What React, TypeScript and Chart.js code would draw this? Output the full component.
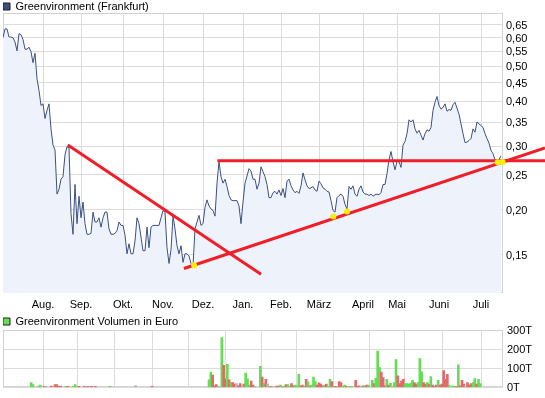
import React, { useEffect, useRef } from 'react';
import { Chart, registerables } from 'chart.js';

Chart.register(...registerables);

const FONT = "'Liberation Sans', Arial, sans-serif";

const monthTickDays = [20, 39, 60, 80, 100, 120, 139, 158, 180, 197, 218, 239];
const monthLabels = ['Aug.', 'Sep.', 'Okt.', 'Nov.', 'Dez.', 'Jan.', 'Feb.', 'März', 'April', 'Mai', 'Juni', 'Juli'];
const priceTicks = [0.15, 0.2, 0.25, 0.3, 0.35, 0.4, 0.45, 0.5, 0.55, 0.6, 0.65];
const volumeTicks = [0, 100, 200, 300];

const priceValues = [
  0.599, 0.634, 0.634, 0.602, 0.602, 0.599, 0.583, 0.551, 0.615, 0.611,
  0.593, 0.557, 0.557, 0.564, 0.548, 0.511, 0.543, 0.461, 0.428, 0.389,
  0.393, 0.358, 0.377, 0.393, 0.335, 0.302, 0.293, 0.221, 0.228, 0.243,
  0.247, 0.284, 0.299, 0.297, 0.195, 0.171, 0.235, 0.183, 0.218, 0.190,
  0.210, 0.183, 0.171, 0.171, 0.172, 0.197, 0.185, 0.185, 0.190, 0.179,
  0.190, 0.197, 0.197, 0.177, 0.171, 0.171, 0.172, 0.175, 0.185, 0.181,
  0.181, 0.170, 0.151, 0.161, 0.151, 0.151, 0.164, 0.190, 0.183, 0.168,
  0.154, 0.154, 0.179, 0.157, 0.179, 0.181, 0.181, 0.181, 0.181, 0.190,
  0.199, 0.197, 0.157, 0.142, 0.155, 0.192, 0.177, 0.159, 0.151, 0.159,
  0.143, 0.151, 0.151, 0.149, 0.142, 0.140, 0.177, 0.185, 0.193, 0.181,
  0.183, 0.203, 0.213, 0.205, 0.201, 0.199, 0.192, 0.237, 0.272, 0.247,
  0.237, 0.243, 0.232, 0.219, 0.213, 0.212, 0.212, 0.212, 0.205, 0.183,
  0.210, 0.237, 0.248, 0.260, 0.256, 0.243, 0.243, 0.228, 0.237, 0.263,
  0.255, 0.247, 0.235, 0.216, 0.216, 0.223, 0.225, 0.221, 0.227, 0.219,
  0.229, 0.216, 0.240, 0.243, 0.233, 0.227, 0.223, 0.225, 0.222, 0.233,
  0.253, 0.242, 0.233, 0.229, 0.230, 0.232, 0.227, 0.225, 0.240, 0.236,
  0.230, 0.228, 0.225, 0.224, 0.212, 0.199, 0.197, 0.216, 0.219, 0.221,
  0.218, 0.207, 0.201, 0.232, 0.228, 0.233, 0.221, 0.218, 0.228, 0.233,
  0.224, 0.221, 0.221, 0.219, 0.221, 0.218, 0.220, 0.221, 0.220, 0.223,
  0.235, 0.235, 0.252, 0.275, 0.290, 0.272, 0.258, 0.272, 0.272, 0.262,
  0.302, 0.309, 0.325, 0.355, 0.350, 0.355, 0.335, 0.326, 0.332, 0.322,
  0.312, 0.325, 0.333, 0.330, 0.338, 0.377, 0.397, 0.412, 0.389, 0.380,
  0.384, 0.393, 0.375, 0.379, 0.377, 0.391, 0.397, 0.382, 0.368, 0.346,
  0.325, 0.307, 0.308, 0.311, 0.315, 0.335, 0.328, 0.350, 0.346, 0.342,
  0.338, 0.325, 0.315, 0.306, 0.292, 0.286, 0.275, 0.271, 0.276, 0.282,
];

const volumeDays = [
  4, 5, 8, 9, 11, 12, 15, 17, 18, 19, 20, 23, 24, 27, 28, 30, 33, 35, 37, 39, 47, 61, 70,
  101, 102, 103, 104, 105, 106, 108, 109, 110, 111, 112, 113, 114, 115, 116, 117, 118, 120, 121, 122, 123, 124, 125,
  126, 129, 130, 131, 132, 133, 134, 135,
  137, 138, 139, 140, 141, 142, 143, 144, 145, 146, 147, 148, 149, 150, 151, 152, 153, 154, 155, 156, 157, 158, 159, 160, 161, 162, 163, 164, 165, 166, 167, 168, 169, 170,
  172, 173, 174, 175, 176, 177, 178, 179,
  181, 182, 183, 184, 185, 186, 187, 188,
  190, 191, 192, 193, 194, 195, 196, 197, 198, 199, 200, 201, 202, 203, 204, 205, 206, 207, 208, 209,
  210, 211, 212, 213, 214, 215, 216, 217, 218, 219, 220, 221, 222, 223, 224, 225, 226, 227, 228, 229,
  230, 231, 232, 233, 234, 235, 236, 237, 238, 239, 240, 241, 242, 243, 244, 245, 246, 247, 248, 249,
];
const volumeValues = [
  25, 15, 7, 12, 5, 5, 7, 15, 15, 5, 7, 5, 5, 5, 15, 5, 5, 5, 5, 5, 5, 10, 5,
  40, 80, 65, 8, 15, 5, 260, 115, 45, 120, 40, 25, 25, 17, 20, 8, 20, 17, 75, 45, 12, 33, 12,
  5, 110, 54, 20, 42, 17, 5, 4,
  4, 7, 7, 12, 4, 7, 15, 15, 4, 20, 8, 12, 8, 68, 8, 12, 5, 42, 29, 8, 12, 54, 30, 12, 24, 17, 8, 12, 17, 5, 42, 30, 5, 5,
  30, 25, 5, 12, 5, 5, 5, 4,
  37, 5, 8, 5, 8, 8, 12, 12,
  37, 20, 47, 190, 105, 80, 51, 8, 42, 12, 22, 5, 25, 145, 60, 20, 34, 42, 20, 20,
  17, 22, 37, 25, 17, 25, 150, 82, 25, 17, 25, 17, 56, 12, 5, 12, 37, 12, 17, 88,
  42, 68, 12, 4, 8, 5, 5, 118, 8, 37, 17, 5, 25, 12, 20, 25, 46, 17, 42, 20,
];
const volumeTrend = [
  'u', 'u', 'u', 'u', 'd', 'n', 'd', 'd', 'd', 'd', 'd', 'u', 'd', 'u', 'u', 'd', 'd', 'd', 'd', 'd', 'u', 'n', 'd',
  'u', 'u', 'd', 'd', 'd', 'u', 'u', 'd', 'd', 'u', 'd', 'u', 'd', 'd', 'n', 'd', 'd', 'd', 'u', 'u', 'u', 'd', 'd',
  'u', 'u', 'd', 'u', 'd', 'n', 'u', 'd',
  'n', 'd', 'd', 'u', 'd', 'u', 'd', 'u', 'u', 'd', 'd', 'u', 'u', 'u', 'd', 'd', 'u', 'd', 'u', 'd', 'u', 'u', 'u', 'd', 'd', 'd', 'd', 'u', 'd', 'u', 'u', 'd', 'u', 'd',
  'd', 'd', 'u', 'u', 'd', 'n', 'u', 'u',
  'd', 'd', 'd', 'n', 'd', 'u', 'd', 'u',
  'u', 'd', 'u', 'u', 'u', 'd', 'd', 'd', 'u', 'd', 'u', 'n', 'u', 'u', 'd', 'd', 'd', 'd', 'u', 'u',
  'u', 'u', 'u', 'd', 'd', 'u', 'u', 'u', 'd', 'd', 'u', 'd', 'u', 'd', 'd', 'd', 'u', 'd', 'd', 'd',
  'd', 'd', 'u', 'n', 'u', 'u', 'd', 'u', 'd', 'd', 'd', 'n', 'd', 'd', 'd', 'u', 'u', 'd', 'u', 'u',
];

// trend lines drawn on the chart: [day, price] end points
const fallingTrend = [[32.4, 0.3025], [129, 0.1326]];
const risingTrend = [[90.5, 0.1375], [271, 0.2968]];
const resistanceLine = [[107.2, 0.2734], [271, 0.2734]];
const touchDays = [95.5, 165.2, 172, 247.3, 249.8];
const touchPrices = [0.1404, 0.1917, 0.1978, 0.2706, 0.2712];

const GRID = '#dcdcdc';
const FRAME = '#d2d2d2';
const GREEN = '#66dd55';
const RED = '#e36a6a';
const GRAY = '#b8b8b8';

const framePlugin = {
  id: 'frame',
  beforeDatasetsDraw(chart: any) {
    const { ctx, chartArea: a } = chart;
    ctx.save();
    ctx.strokeStyle = FRAME;
    ctx.lineWidth = 1;
    ctx.strokeRect(Math.round(a.left) + 0.5, Math.round(a.top) + 0.5, Math.round(a.right - a.left) - 1, Math.round(a.bottom - a.top) - 1);
    ctx.restore();
  },
};

const trendPlugin = {
  id: 'trend',
  afterDatasetsDraw(chart: any) {
    const { ctx } = chart;
    const xs = chart.scales.x;
    const ys = chart.scales.y;
    ctx.save();
    ctx.strokeStyle = '#f01e28';
    ctx.lineWidth = 3;
    for (const seg of [fallingTrend, risingTrend, resistanceLine]) {
      ctx.beginPath();
      ctx.moveTo(xs.getPixelForValue(seg[0][0]), ys.getPixelForValue(seg[0][1]));
      ctx.lineTo(xs.getPixelForValue(seg[1][0]), ys.getPixelForValue(seg[1][1]));
      ctx.stroke();
    }
    ctx.fillStyle = '#ffee00';
    touchDays.forEach((d, k) => {
      ctx.beginPath();
      ctx.arc(xs.getPixelForValue(d), ys.getPixelForValue(touchPrices[k]), 3, 0, Math.PI * 2);
      ctx.fill();
    });
    ctx.restore();
  },
};

export default function App() {
  const mainRef = useRef<HTMLCanvasElement>(null);
  const volRef = useRef<HTMLCanvasElement>(null);

  useEffect(() => {
    Chart.defaults.font.family = FONT;
    Chart.defaults.font.size = 11;
    Chart.defaults.color = '#000';

    const main = new Chart(mainRef.current as HTMLCanvasElement, {
      type: 'line',
      data: {
        datasets: [
          {
            label: 'Greenvironment (Frankfurt)',
            data: priceValues.map((v, i) => ({ x: i, y: v })),
            borderColor: '#3c5080',
            borderWidth: 1,
            backgroundColor: '#eef2fa',
            fill: 'start',
            pointRadius: 0,
            tension: 0,
          },
        ],
      },
      options: {
        responsive: false,
        animation: false,
        events: [],
        layout: { padding: { top: 1, left: 3, right: 0, bottom: 0 } },
        plugins: {
          tooltip: { enabled: false },
          legend: {
            display: true,
            position: 'top',
            align: 'start',
            maxHeight: 12,
            labels: {
              boxWidth: 7,
              boxHeight: 7,
              padding: 0,
              color: '#000',
              font: { family: FONT, size: 11 },
              generateLabels: () => [
                { text: 'Greenvironment (Frankfurt)', fillStyle: '#3c5080', strokeStyle: '#1e1e1e', lineWidth: 1, hidden: false, datasetIndex: 0 },
              ],
            },
          },
        },
        scales: {
          x: {
            type: 'linear',
            min: 0,
            max: 250,
            afterBuildTicks: (s: any) => {
              s.ticks = monthTickDays.map((v) => ({ value: v }));
            },
            afterFit: (s: any) => {
              s.height = 19;
            },
            ticks: {
              autoSkip: false,
              maxRotation: 0,
              padding: 5,
              color: '#000',
              font: { family: FONT, size: 11 },
              callback: (v: any) => {
                const k = monthTickDays.indexOf(Number(v));
                return k >= 0 ? monthLabels[k] : '';
              },
            },
            grid: { color: GRID, drawTicks: false },
            border: { display: false },
          },
          y: {
            type: 'logarithmic',
            position: 'right',
            min: 0.1176,
            max: 0.7016,
            afterBuildTicks: (s: any) => {
              s.ticks = priceTicks.map((v) => ({ value: v }));
            },
            afterFit: (s: any) => {
              s.width = 42;
            },
            ticks: {
              autoSkip: false,
              padding: 3,
              labelOffset: 1,
              color: '#000',
              font: { family: FONT, size: 11 },
              callback: (v: any) => Number(v).toFixed(2).replace('.', ','),
            },
            grid: { color: GRID, drawTicks: false },
            border: { display: false },
          },
        },
      },
      plugins: [framePlugin, trendPlugin],
    } as any);

    const vol = new Chart(volRef.current as HTMLCanvasElement, {
      type: 'bar',
      data: {
        datasets: [
          {
            label: 'Greenvironment Volumen in Euro',
            data: volumeDays.map((d, k) => ({ x: d, y: volumeValues[k] })),
            backgroundColor: volumeTrend.map((t) => (t === 'u' ? GREEN : t === 'd' ? RED : GRAY)),
            borderWidth: 0,
            barThickness: 2,
          },
        ],
      },
      options: {
        responsive: false,
        animation: false,
        events: [],
        layout: { padding: { top: 1, left: 3, right: 0, bottom: 0 } },
        plugins: {
          tooltip: { enabled: false },
          legend: {
            display: true,
            position: 'top',
            align: 'start',
            maxHeight: 14,
            labels: {
              boxWidth: 7,
              boxHeight: 7,
              padding: 0,
              color: '#000',
              font: { family: FONT, size: 11 },
              generateLabels: () => [
                { text: 'Greenvironment Volumen in Euro', fillStyle: GREEN, strokeStyle: '#1e1e1e', lineWidth: 1, hidden: false, datasetIndex: 0 },
              ],
            },
          },
        },
        scales: {
          x: {
            type: 'linear',
            min: 0,
            max: 250,
            afterBuildTicks: (s: any) => {
              s.ticks = monthTickDays.map((v) => ({ value: v }));
            },
            afterFit: (s: any) => {
              s.height = 9;
            },
            ticks: { display: false },
            grid: { color: GRID, drawTicks: false },
            border: { display: false },
          },
          y: {
            type: 'linear',
            position: 'right',
            min: 0,
            max: 300,
            afterBuildTicks: (s: any) => {
              s.ticks = volumeTicks.map((v) => ({ value: v }));
            },
            afterFit: (s: any) => {
              s.width = 42;
            },
            ticks: {
              autoSkip: false,
              padding: 4,
              labelOffset: 1,
              color: '#000',
              font: { family: FONT, size: 11 },
              callback: (v: any) => `${v}T`,
            },
            grid: { color: GRID, drawTicks: false },
            border: { display: false },
          },
        },
      },
      plugins: [framePlugin],
    } as any);

    return () => {
      main.destroy();
      vol.destroy();
    };
  }, []);

  return (
    <div style={{ position: 'absolute', left: 0, top: 0, width: 545, height: 398, background: '#fff' }}>
      <canvas ref={mainRef} width={545} height={312} style={{ position: 'absolute', left: 0, top: 0 }} />
      <canvas ref={volRef} width={545} height={83} style={{ position: 'absolute', left: 0, top: 315 }} />
    </div>
  );
}
